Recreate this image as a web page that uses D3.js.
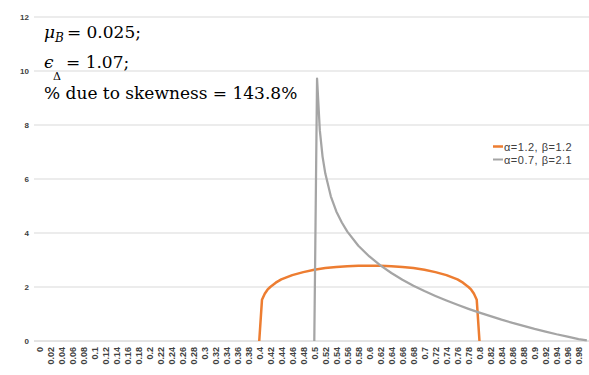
<!DOCTYPE html>
<html>
<head>
<meta charset="utf-8">
<script src="https://cdn.jsdelivr.net/npm/d3@7"></script>
<style>
  html, body { margin: 0; padding: 0; background: #ffffff; }
  svg { display: block; }
</style>
</head>
<body>
<svg id="chart" width="589" height="375"></svg>
<script>
// Density of the two scaled beta distributions
const orangeX = [0.4, 0.405, 0.41, 0.415, 0.42, 0.43, 0.44, 0.46, 0.48, 0.5, 0.52, 0.54, 0.56, 0.58, 0.6,
                 0.62, 0.64, 0.66, 0.68, 0.7, 0.72, 0.74, 0.76, 0.77, 0.78, 0.785, 0.79, 0.795, 0.8];
const orangeY = [0, 1.53, 1.75, 1.90, 2.00, 2.16, 2.28, 2.44, 2.55, 2.64, 2.70, 2.74, 2.77, 2.79, 2.79,
                 2.79, 2.77, 2.74, 2.70, 2.64, 2.55, 2.44, 2.28, 2.16, 2.00, 1.90, 1.75, 1.53, 0];

const grayX = [0.5, 0.505, 0.51, 0.515, 0.52, 0.53, 0.54, 0.55, 0.56, 0.58, 0.6, 0.62, 0.64, 0.66, 0.68,
               0.7, 0.72, 0.74, 0.76, 0.78, 0.8, 0.82, 0.84, 0.86, 0.88, 0.9, 0.92, 0.94, 0.96, 0.98, 0.995];
const grayY = [0, 9.72, 7.81, 6.83, 6.20, 5.36, 4.80, 4.39, 4.05, 3.53, 3.13, 2.80, 2.52, 2.27, 2.05,
               1.85, 1.67, 1.50, 1.34, 1.19, 1.05, 0.92, 0.79, 0.67, 0.56, 0.45, 0.35, 0.25, 0.16, 0.07, 0.02];

const seriesNames = ["α=1.2, β=1.2", "α=0.7, β=2.1"];
const seriesColors = ["#ED7D31", "#A5A5A5"];

const xTickValues = [0, 0.02, 0.04, 0.06, 0.08, 0.1, 0.12, 0.14, 0.16, 0.18, 0.2, 0.22, 0.24, 0.26, 0.28,
                     0.3, 0.32, 0.34, 0.36, 0.38, 0.4, 0.42, 0.44, 0.46, 0.48, 0.5, 0.52, 0.54, 0.56, 0.58,
                     0.6, 0.62, 0.64, 0.66, 0.68, 0.7, 0.72, 0.74, 0.76, 0.78, 0.8, 0.82, 0.84, 0.86, 0.88,
                     0.9, 0.92, 0.94, 0.96, 0.98];
const yTickValues = [0, 2, 4, 6, 8, 10, 12];

const svg = d3.select("#chart");

const plotLeft = 34, plotRight = 589;
const x = d3.scaleLinear().domain([0, 1]).range([39, 589.6]);
const y = d3.scaleLinear().domain([0, 12]).range([341, 17]);

// horizontal gridlines
svg.append("g")
  .selectAll("line")
  .data(yTickValues.filter(d => d > 0))
  .join("line")
  .attr("x1", plotLeft).attr("x2", plotRight)
  .attr("y1", d => y(d)).attr("y2", d => y(d))
  .attr("stroke", "#d9d9d9").attr("stroke-width", 1);

// y axis labels
const yAxis = d3.axisLeft(y).tickValues(yTickValues).tickSize(0).tickPadding(0).tickFormat(d3.format("d"));
svg.append("g")
  .attr("transform", "translate(29,0)")
  .call(yAxis)
  .call(g => g.select(".domain").remove())
  .call(g => g.selectAll("text")
    .attr("font-family", "Liberation Sans, Arial, sans-serif")
    .attr("font-size", 8)
    .attr("font-weight", "bold")
    .attr("fill", "#404040"));

// x axis labels, rotated
const xAxis = d3.axisBottom(x).tickValues(xTickValues).tickSize(0).tickPadding(0)
  .tickFormat(d => String(+d.toFixed(2)));
svg.append("g")
  .attr("transform", `translate(0,${y(0)})`)
  .call(xAxis)
  .call(g => g.select(".domain").remove())
  .call(g => g.selectAll("text")
    .attr("font-family", "Liberation Sans, Arial, sans-serif")
    .attr("font-size", 9)
    .attr("font-weight", "bold")
    .attr("fill", "#404040")
    .attr("text-anchor", "end")
    .attr("dy", null)
    .attr("dominant-baseline", "central")
    .attr("transform", "translate(0,6) rotate(-90)")
    .attr("y", 0));

// baseline
svg.append("line")
  .attr("x1", plotLeft).attr("x2", plotRight)
  .attr("y1", y(0)).attr("y2", y(0))
  .attr("stroke", "#c8c8c8").attr("stroke-width", 1);

// density curves
const line = d3.line().x(d => x(d[0])).y(d => y(d[1]));
const series = [
  d3.zip(orangeX, orangeY),
  d3.zip(grayX, grayY)
];
svg.append("g")
  .selectAll("path")
  .data(series)
  .join("path")
  .attr("d", line)
  .attr("fill", "none")
  .attr("stroke", (d, i) => seriesColors[i])
  .attr("stroke-width", (d, i) => i === 0 ? 2.5 : 2.25)
  .attr("stroke-linejoin", "round");

// legend
const legend = svg.append("g")
  .attr("font-family", "Liberation Sans, Arial, sans-serif")
  .attr("font-size", 11)
  .attr("letter-spacing", 0.5);
seriesNames.forEach((name, i) => {
  const ly = 146.5 + i * 13;
  legend.append("line")
    .attr("x1", 493).attr("x2", 503).attr("y1", ly).attr("y2", ly)
    .attr("stroke", seriesColors[i]).attr("stroke-width", i === 0 ? 2.5 : 2);
  legend.append("text")
    .attr("x", 504).attr("y", ly).attr("dominant-baseline", "central")
    .attr("fill", "#404040").text(name);
});

// annotation block
const note = svg.append("g").attr("font-family", "DejaVu Serif, serif").attr("font-size", 17).attr("fill", "#000000");
const l1 = note.append("text").attr("x", 44).attr("y", 38);
l1.append("tspan").attr("font-style", "italic").text("μ");
l1.append("tspan").attr("font-style", "italic").attr("font-size", 12).attr("dy", 4).text("B");
l1.append("tspan").attr("dy", -4).attr("dx", 3).text("= 0.025;");

note.append("text").attr("x", 44).attr("y", 68).attr("font-style", "italic").text("ϵ");
note.append("text").attr("x", 53).attr("y", 80).attr("font-size", 11).text("Δ");
note.append("text").attr("x", 66).attr("y", 68).text("= 1.07;");

note.append("text").attr("x", 44).attr("y", 99).text("% due to skewness = 143.8%");
</script>
</body>
</html>
